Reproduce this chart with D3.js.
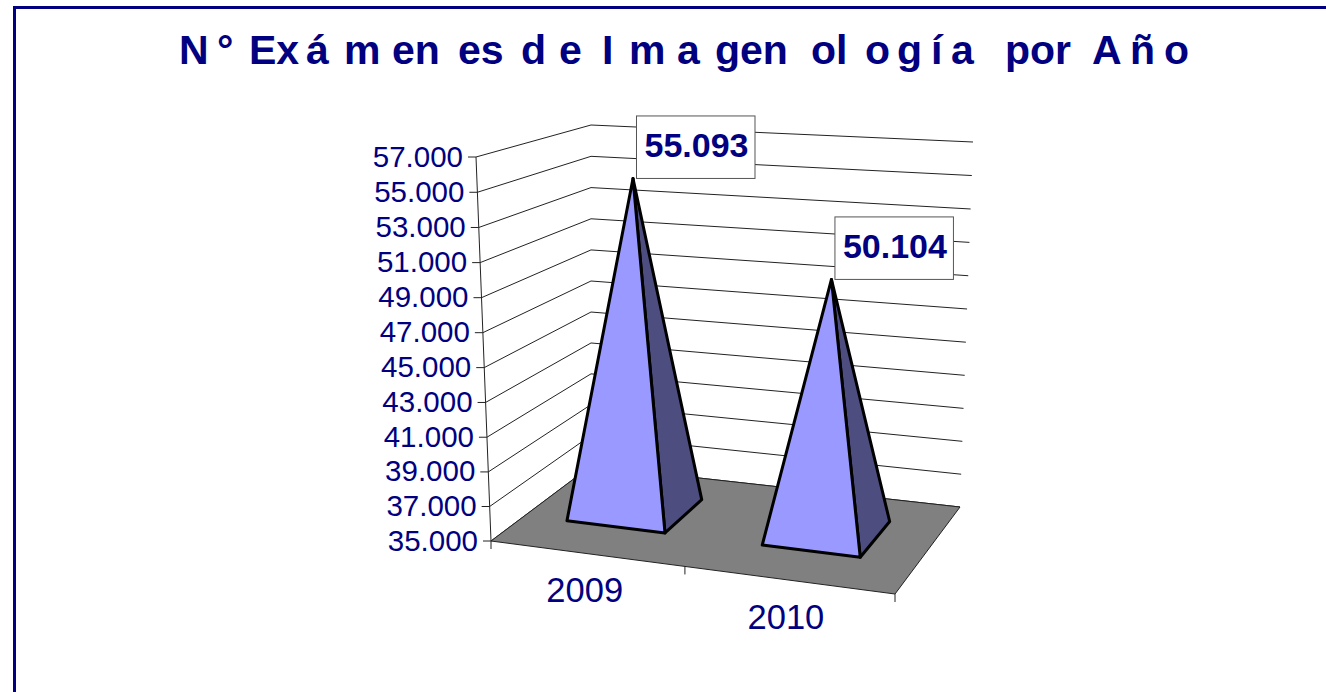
<!DOCTYPE html>
<html>
<head>
<meta charset="utf-8">
<script src="https://cdn.jsdelivr.net/npm/d3@7"></script>
<style>
  html, body { margin: 0; padding: 0; background: #fff; overflow: hidden; }
  text { font-family: "Liberation Sans", Arial, sans-serif; fill: #000080; }
</style>
</head>
<body>
<svg id="chart" width="1326" height="692"></svg>
<script>
// Data
const years = ["2009", "2010"];
const exams = [55093, 50104];
const valueTicks = d3.range(35000, 57001, 2000);

// Title is spaced very unevenly in the original, so it goes chunk by chunk
const titleChunks = ["N", "° ", "Ex", "á", "m", "en", "es ", "d", "e ", "I", "m", "a", "gen", "ol", "o", "g", "í", "a ", "por ", "A", "ñ", "o"];
const titleX = [179, 217, 249, 306, 344, 392, 458, 521, 559, 602, 629, 677, 715, 811, 865, 897, 931, 951, 1005, 1092, 1130, 1164];

const colors = {
  navy: "#000080",
  floor: "#808080",
  front: "#9999ff",
  side: "#4d4d80",
  grid: "#222222"
};

const svg = d3.select("#chart");

// The 3D box, corners as they land on screen
const floorBox = { fl: [491, 541], fr: [895, 594], br: [960, 507], bl: [591, 466] };
const topBox = { fl: [476, 157], fr: [905, 205], br: [973, 142], bl: [591, 125] };

// value -> height in the box, slightly bent for the perspective
const heightScale = d3.scalePow().exponent(1.05).domain([35000, 57000]).range([0, 1]);
// year -> position along the front edge
const yearScale = d3.scalePoint().domain(years).range([0.232, 0.73]);

const mix = (a, b, t) => [a[0] + (b[0] - a[0]) * t, a[1] + (b[1] - a[1]) * t];

function corner(box, u, v) {
  return mix(mix(box.fl, box.fr, u), mix(box.bl, box.br, u), v);
}

// u along the category axis, v into the depth
function project(u, v, value) {
  return mix(corner(floorBox, u, v), corner(topBox, u, v), heightScale(value));
}

const toPath = pts => d3.line()(pts) + "Z";

// Frame, only top and left are in the picture
svg.append("path")
  .attr("d", "M14.5,692V7.5H1326")
  .attr("fill", "none")
  .attr("stroke", colors.navy)
  .attr("stroke-width", 3);

// Title
svg.append("text")
  .attr("y", 64)
  .attr("font-size", 41)
  .attr("font-weight", "bold")
  .selectAll("tspan")
  .data(titleChunks)
  .enter().append("tspan")
  .attr("x", (d, i) => titleX[i])
  .text(d => d);

// Wall gridlines, left wall then back wall
svg.append("g").selectAll("path")
  .data(valueTicks)
  .enter().append("path")
  .attr("d", d => d3.line()([project(0, 0, d), project(0, 1, d), project(1, 1, d)]))
  .attr("fill", "none")
  .attr("stroke", colors.grid)
  .attr("stroke-width", 1);

// Value axis
svg.append("path")
  .attr("d", d3.line()([project(0, 0, 35000), project(0, 0, 57000)]))
  .attr("stroke", colors.grid)
  .attr("stroke-width", 1);

const yTicks = svg.append("g").selectAll("g")
  .data(valueTicks)
  .enter().append("g")
  .attr("transform", d => `translate(${project(0, 0, d)})`);

yTicks.append("line")
  .attr("x1", -8)
  .attr("x2", 0)
  .attr("stroke", colors.grid);

yTicks.append("text")
  .attr("x", -13)
  .attr("y", 9.5)
  .attr("text-anchor", "end")
  .attr("font-size", 29.5)
  .text(d => d3.format(",")(d).replace(/,/g, "."));

// Floor
svg.append("path")
  .attr("d", toPath([floorBox.fl, floorBox.fr, floorBox.br, floorBox.bl]))
  .attr("fill", colors.floor)
  .attr("stroke", colors.grid)
  .attr("stroke-width", 1);

// Category axis ticks
svg.append("g").selectAll("line")
  .data([0, 0.48, 1])
  .enter().append("line")
  .attr("x1", d => project(d, 0, 35000)[0])
  .attr("x2", d => project(d, 0, 35000)[0])
  .attr("y1", d => project(d, 0, 35000)[1])
  .attr("y2", d => project(d, 0, 35000)[1] + 8)
  .attr("stroke", colors.grid);

svg.append("g").selectAll("text")
  .data(years)
  .enter().append("text")
  .attr("x", d => project(yearScale(d), 0, 35000)[0])
  .attr("y", d => project(yearScale(d), 0, 35000)[1] + 49)
  .attr("text-anchor", "middle")
  .attr("font-size", 34.5)
  .text(d => d);

// Pyramids
const halfWidth = 0.125;
const depthFront = 0.34;
const depthBack = 0.76;
const depthMid = (depthFront + depthBack) / 2;

const pyramids = svg.append("g").selectAll("g")
  .data(years)
  .enter().append("g");

pyramids.append("path")
  .attr("d", (d, i) => {
    const u = yearScale(d);
    return toPath([
      project(u + halfWidth, depthFront, 35000),
      project(u + halfWidth, depthBack, 35000),
      project(u, depthMid, exams[i])
    ]);
  })
  .attr("fill", colors.side);

pyramids.append("path")
  .attr("d", (d, i) => {
    const u = yearScale(d);
    return toPath([
      project(u - halfWidth, depthFront, 35000),
      project(u + halfWidth, depthFront, 35000),
      project(u, depthMid, exams[i])
    ]);
  })
  .attr("fill", colors.front);

pyramids.selectAll("path")
  .attr("stroke", "#000")
  .attr("stroke-width", 3)
  .attr("stroke-linejoin", "round");

// Value labels sit just right of the tip
const labels = svg.append("g").selectAll("g")
  .data(years)
  .enter().append("g")
  .attr("transform", (d, i) => {
    const tip = project(yearScale(d), depthMid, exams[i]);
    return `translate(${tip[0] + 3.5},${tip[1]})`;
  });

labels.append("rect")
  .attr("x", 0)
  .attr("y", -62.5)
  .attr("width", 118.5)
  .attr("height", 62.5)
  .attr("fill", "#fff")
  .attr("stroke", "#555")
  .attr("stroke-width", 1);

labels.append("text")
  .attr("x", 60)
  .attr("y", -21.5)
  .attr("text-anchor", "middle")
  .attr("font-size", 34)
  .attr("font-weight", "bold")
  .text((d, i) => d3.format(",")(exams[i]).replace(/,/g, "."));
</script>
</body>
</html>
